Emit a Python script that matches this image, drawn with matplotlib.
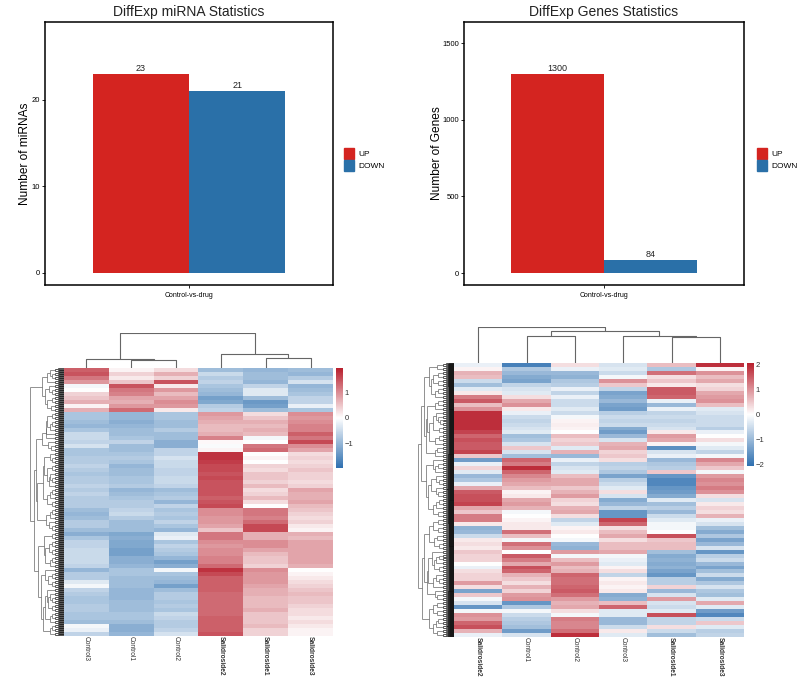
#! /usr/bin/env python3
import numpy as np
import matplotlib
matplotlib.use('Agg')
import matplotlib.pyplot as plt
from matplotlib.collections import LineCollection
from matplotlib.colors import LinearSegmentedColormap
from matplotlib.patches import Patch

plt.rcParams['font.family'] = ['Liberation Sans', 'DejaVu Sans']

W, H = 800, 680

# bar charts
mirna_counts = [23, 21]
gene_counts = [1300, 84]
bar_labels = ['UP', 'DOWN']
group_label = 'Control-vs-drug'

# miRNA heatmap, columns left to right, rows top to bottom
m_samples = ['Control3', 'Control1', 'Control2', 'Salidroside2', 'Salidroside1', 'Salidroside3']
m_control3 = [1.4, 1.5, 1.2, 0.9, -0.1, 0.0, 0.4, 0.5, 0.7, 0.1, 0.7,
              -0.8, -0.8, -0.9, -1.0, -0.8, -0.5, -0.5, -0.6, -0.4, -0.8,
              -0.8, -0.7, -0.7, -0.6, -0.7, -0.8, -0.7, -0.7, -0.6, -0.7, -0.6, -0.7, -0.7, -0.7,
              -0.9, -1.0, -0.9, -0.7, -0.7, -0.9, -1.1, -0.8, -0.6, -0.6, -0.5, -0.5, -0.5, -0.5, -0.6,
              -1.0, -0.7, -0.7, -0.3, -0.1, -0.6, -0.7, -0.8, -0.8, -0.7, -0.7, -0.8, -0.8, -0.9, -0.1, -0.2, -0.6]
m_control1 = [0.1, 0.4, 0.2, 0.5, 1.5, 1.2, 1.1, 0.8, 0.7, 0.9, 1.3,
              -1.0, -1.0, -1.1, -1.0, -0.9, -0.9, -0.8, -0.6, -0.9, -0.9,
              -0.8, -0.7, -0.8, -1.0, -0.9, -0.9, -0.8, -0.8, -0.7, -1.0, -0.9, -0.8, -0.7, -0.7,
              -0.6, -0.5, -0.7, -0.9, -0.9, -0.9, -1.2, -1.1, -1.2, -1.2, -1.3, -1.3, -1.1, -1.1, -1.0,
              -0.8, -0.8, -0.9, -0.9, -0.9, -1.0, -1.0, -1.0, -0.9, -0.9, -0.9, -0.8, -0.8, -0.9, -1.1, -1.1, -1.0]
m_control2 = [0.3, 0.7, 0.4, 1.5, 0.2, 0.9, 0.6, 0.8, 1.0, 0.9, 0.2,
              -0.8, -0.8, -0.9, -0.9, -0.7, -0.9, -0.9, -1.1, -1.1, -0.6,
              -0.6, -0.4, -0.5, -0.5, -0.6, -0.6, -0.5, -0.5, -0.6, -0.9, -0.8, -0.7, -1.0, -0.6,
              -0.8, -0.7, -0.8, -0.6, -0.8, -1.0, -0.3, -0.2, -0.8, -0.6, -0.7, -0.8, -1.0, -1.3, -1.1,
              -0.1, -0.8, -0.9, -1.0, -1.3, -0.9, -0.7, -0.7, -0.8, -0.7, -0.8, -0.5, -0.6, -0.7, -0.7, -0.6, -0.4]
m_salid2 = [-0.9, -0.5, -0.7, -0.6, -0.8, -0.9, -1.0, -1.3, -1.2, -0.7, -0.6,
            0.9, 0.8, 0.7, 0.6, 0.6, 0.7, 1.1, 0.05, -0.05, 0.1,
            1.8, 1.8, 1.7, 1.6, 1.6, 1.5, 1.6, 1.5, 1.5, 1.5, 1.5, 1.4, 1.5, 1.6,
            1.0, 1.0, 0.9, 0.9, 0.8, 0.5, 1.2, 1.2, 1.0, 0.9, 1.0, 1.0, 1.1, 1.1, 1.3,
            1.8, 1.6, 1.4, 1.4, 1.4, 1.4, 1.3, 1.3, 1.3, 1.3, 1.3, 1.3, 1.4, 1.4, 1.4, 1.4, 1.5]
m_salid1 = [-1.0, -0.9, -0.9, -1.0, -0.6, -0.3, -0.3, -0.9, -1.4, -1.3, -0.9,
            0.3, 0.5, 0.7, 0.6, 0.7, 0.6, -0.1, 0.0, 1.2, 1.3,
            0.0, 0.1, 0.0, 0.4, 0.3, 0.5, 0.5, 0.4, 0.6, 0.3, 0.4, 0.6, 0.3, 0.0,
            1.2, 1.2, 1.1, 1.3, 1.6, 1.6, 0.7, 0.7, 1.0, 1.0, 0.8, 0.6, 0.5, 0.5, 0.4,
            1.0, 0.9, 0.9, 0.9, 0.8, 0.7, 0.7, 0.6, 0.6, 0.6, 0.7, 0.5, 0.5, 0.5, 0.6, 0.4, 0.4]
m_salid3 = [-0.9, -1.0, -0.7, -0.4, -1.0, -0.9, -0.8, -0.6, -0.6, -0.2, -0.8,
            1.0, 0.9, 1.0, 1.1, 1.1, 1.4, 1.2, 1.6, 1.0, 0.8,
            0.3, 0.4, 0.3, 0.4, 0.5, 0.4, 0.4, 0.3, 0.4, 0.8, 0.7, 0.7, 0.8, 0.6,
            0.5, 0.4, 0.3, 0.4, 0.2, 0.1, 0.7, 0.6, 0.8, 0.8, 0.8, 0.8, 0.8, 0.8, 0.7,
            0.0, 0.1, 0.2, 0.3, 0.4, 0.5, 0.6, 0.5, 0.5, 0.4, 0.3, 0.3, 0.2, 0.3, 0.2, 0.1, 0.1]
# merges as (left id, right id, height); ids above 5 are earlier merges
m_merges = [(1, 2, 23), (0, 6, 27), (4, 5, 30), (3, 8, 43), (7, 9, 105)]

# genes heatmap
g_samples = ['Salidroside2', 'Control1', 'Control2', 'Control3', 'Salidroside1', 'Salidroside3']
g_salid2 = [-0.2, 0.1, 0.7, 0.6, -0.5, -0.9, -0.3, 0.2, 1.2, 1.5, 0.6, 1.0,
            1.9, 1.9, 1.9, 1.9, 1.9, 1.7, 1.4, 1.6, 1.5, 1.5, 1.7, 0.5,
            -1.4, -0.2, 0.4, -0.3, -1.0, -0.8, -0.2, 0.8, 1.5, 1.6, 1.6,
            1.7, 0.8, 0.5, 1.2, 1.2, 0.2, -1.1, -1.0, -0.5, 0.2, 0.3, 0.2, 0.5, 0.4, 0.4, 0.0,
            -0.2, 0.3, 0.4, 0.4, 0.9, 0.3, -1.3, 0.5, -0.1, -0.4, -1.5, -0.1, 1.0, 0.9, 1.4, 1.6, 0.7, -0.2]
g_control1 = [-1.8, -0.8, -1.0, -1.2, -1.3, -0.6, -0.4, -0.3, 0.3, 0.8, 1.0, 0.2,
              -0.2, -0.5, -0.6, -0.5, -0.4, -0.3, -0.9, -0.8, -0.4, 0.5, -0.4, -0.9,
              1.4, 1.2, 1.9, 1.4, 1.1, 0.9, 0.8, 0.6, 0.1, 0.2, 0.8,
              0.9, 0.7, -0.1, 0.0, 0.1, 0.2, 0.2, 1.3, 0.6, -0.1, 1.3, 1.0, 0.0, 1.5, 1.2, 0.8,
              1.6, 1.4, 0.7, 0.5, 0.3, 0.7, 0.4, 0.9, 1.0, -1.5, -0.8, -0.1, -0.5, -0.7, -0.8, -0.9, -1.4, -0.4]
g_control2 = [0.3, -0.2, -1.0, -1.1, -0.8, -0.7, -0.2, -0.6, -0.2, -0.5, -0.5, -0.3,
              -0.5, -0.1, 0.1, 0.15, 0.1, 0.0, 0.6, 0.4, 0.5, -0.3, 0.7, -1.0,
              -0.2, -0.6, -0.4, -0.3, 0.6, 0.8, 0.8, 0.5, 0.7, 0.9, 0.4,
              0.3, 0.7, 0.8, 0.3, -0.6, -0.3, 0.1, 0.2, 0.0, -0.1, -1.0, -1.1, 0.9, -0.1, 0.6, 0.9,
              0.6, 0.7, 1.4, 1.3, 1.3, 1.4, 1.5, 1.3, 0.9, 0.7, 0.8, 0.3, -0.1, 1.2, 1.1, 1.1, 1.3, 1.9]
g_control3 = [-0.4, -0.3, -0.5, -0.1, 1.0, 0.5, -0.6, -1.3, -1.2, -1.0, -1.3, -1.4,
              -0.7, -0.5, -0.6, -0.5, -1.2, -1.4, -1.0, -0.4, 0.7, 0.8, 0.4, 0.5,
              0.3, -0.7, -0.6, -0.8, -1.3, -0.7, -0.5, -0.3, 0.3, -0.4, -1.2,
              -1.0, -0.6, -1.5, -1.5, 1.7, 1.4, 0.3, 0.6, 0.8, 0.3, 0.6, 0.6, 0.8, -0.1, -0.2, -0.3,
              0.1, 0.3, -0.6, 0.1, 0.2, 0.1, 0.2, -1.2, -1.1, 0.6, 1.4, -0.3, -0.3, -1.0, -1.0, -0.5, 0.2, -0.3]
g_salid1 = [0.6, -0.8, 1.3, 0.3, 0.5, 0.2, 1.5, 1.5, 1.4, -0.2, -1.0, -0.2,
            -0.6, -0.5, -0.6, -0.5, -0.4, 0.2, 0.9, 0.8, 0.1, -1.6, -0.4, -0.2,
            -1.0, -0.8, -0.7, 0.5, -1.5, -1.7, -1.7, -1.5, -1.4, -1.2, -0.3,
            -0.9, -0.7, -1.0, -0.5, -0.3, -0.1, -0.1, 0.0, 1.6, 0.5, 0.6, 0.6, -0.9, -1.2, -1.1, -1.2,
            -1.1, -1.3, -1.5, -0.7, -0.7, 0.4, -1.0, -0.4, 0.9, -0.4, -0.5, -0.3, 1.6, -0.6, -0.6, 0.3, -0.5, -0.9]
g_salid3 = [1.9, 0.1, 1.0, 0.6, 0.8, 0.3, 0.4, 0.8, 0.9, 1.0, 0.6, -0.3,
            -0.4, -0.5, -0.5, -0.5, -0.7, -0.2, 0.0, 0.3, -0.1, -0.3, -0.6, -0.1,
            1.1, 0.8, 0.5, -0.1, 0.9, 1.1, 1.0, 1.2, 1.0, 0.3, -0.4,
            0.2, 0.4, 0.3, 0.7, -0.2, -0.4, -0.9, -1.2, -0.8, -1.3, -1.0, -0.4, -1.5, -0.7, -0.5, -1.0,
            -1.3, -0.9, -0.5, -1.2, -0.8, -0.4, -0.8, -0.9, -0.3, 0.8, -0.3, -1.4, -1.7, -0.5, 0.5, -0.3, -0.7, -0.6]
g_merges = [(4, 5, 78), (1, 2, 80), (3, 6, 82), (7, 8, 96), (0, 9, 108)]

heat_cmap = LinearSegmentedColormap.from_list('heat', ['#2f70b0', '#ffffff', '#b81f2d'])


def px_axes(fig, left, top, right, bottom):
    # place an axes using pixel edges of the picture
    return fig.add_axes([left / W, 1 - bottom / H, (right - left) / W, (bottom - top) / H])


def bar_panel(fig, box, counts, ylim, yticks, title, ylabel, label_x, legend_x):
    ax = px_axes(fig, *box)
    colors = ['#d42420', '#2a70a8']
    ax.bar([-0.225, 0.225], counts, width=0.45, color=colors, edgecolor='none')
    for x, c in zip([-0.225, 0.225], counts):
        ax.text(x, c + (ylim[1] - ylim[0]) * 0.004, str(c), ha='center', va='bottom', fontsize=6.5, color='#222222')
    ax.set_xlim(-0.674, 0.674)
    ax.set_ylim(*ylim)
    ax.set_xticks([0])
    ax.set_xticklabels([group_label], fontsize=5)
    ax.set_yticks(yticks)
    ax.tick_params(axis='y', labelsize=5.5, length=2, width=0.6, pad=1.5)
    ax.tick_params(axis='x', length=2, width=0.6, pad=3)
    for s in ax.spines.values():
        s.set_linewidth(1.1)
    ax.set_title(title, fontsize=10, pad=4, color='#222222')
    ax.set_ylabel(ylabel, fontsize=8.6)
    ax.yaxis.set_label_coords(label_x, 0.5)
    handles = [Patch(color=c) for c in colors]
    fig.legend(handles, bar_labels, loc='center left', bbox_to_anchor=(legend_x / W, 1 - 159.5 / H),
               frameon=False, fontsize=6, handlelength=1.2, handleheight=1.6, handletextpad=0.5,
               labelspacing=0.15, borderpad=0, borderaxespad=0)
    return ax


def row_tree(vals, sub):
    # tree over the rows, cut where neighbouring rows differ most
    total = len(vals) * sub
    segs = []
    colors = []

    def node(lo, hi):
        if hi - lo == 1:
            return (lo + 0.5) / sub - 0.5, 0.0
        first = lo // sub + 1
        last = (hi - 1) // sub
        cut = (lo + hi) // 2
        best = -1.0
        for r in range(first, last + 1):
            c = r * sub
            score = np.linalg.norm(vals[r] - vals[r - 1]) * np.sqrt(min(c - lo, hi - c))
            if score > best:
                best = score
                cut = c
        y1, h1 = node(lo, cut)
        y2, h2 = node(cut, hi)
        # node height grows with size, uneven where its rows disagree
        r1, r2 = lo // sub, (hi - 1) // sub
        spread = np.linalg.norm(vals[r1] - vals[r2]) / 4
        h = np.log(1 + hi - lo) / np.log(1 + total) * (0.8 + min(spread, 0.5) * 0.4)
        h = min(max(h, max(h1, h2) * 1.03), 1.0)
        shade = '#111111' if h < 0.33 else '#666666'
        for seg in ([(h1, y1), (h, y1)], [(h2, y2), (h, y2)], [(h, y1), (h, y2)]):
            segs.append(seg)
            colors.append(shade)
        return (y1 + y2) / 2, h

    node(0, total)
    return segs, colors


def col_tree(merges):
    # top dendrogram lines from the merge list
    pos = {i: (float(i), 0.0) for i in range(6)}
    segs = []
    for k, (a, b, h) in enumerate(merges):
        xa, ha = pos[a]
        xb, hb = pos[b]
        segs.append([(xa, ha), (xa, h), (xb, h), (xb, hb)])
        pos[6 + k] = ((xa + xb) / 2, h)
    return segs, max(m[2] for m in merges)


def heat_panel(fig, vals, samples, merges, lim, cticks, hx, hy, root_x, root_y, cx, cbottom, sub):
    ax = px_axes(fig, hx[0], hy[0], hx[1], hy[1])
    im = ax.imshow(vals, aspect='auto', cmap=heat_cmap, vmin=-lim, vmax=lim, interpolation='nearest')
    ax.set_yticks([])
    ax.set_xticks(range(6))
    ax.set_xticklabels(samples, rotation=270, fontsize=4.8, color='#333333')
    for t, s in zip(ax.get_xticklabels(), samples):
        if s.startswith('Salidroside'):
            t.set_fontweight('bold')
    ax.tick_params(axis='x', length=0, pad=0)
    for s in ax.spines.values():
        s.set_visible(False)

    top = px_axes(fig, hx[0], root_y, hx[1], hy[0])
    segs, hmax = col_tree(merges)
    top.add_collection(LineCollection(segs, colors='#666666', linewidths=0.8))
    top.set_xlim(-0.5, 5.5)
    top.set_ylim(0, hmax)
    top.axis('off')
    top.patch.set_visible(False)

    left = px_axes(fig, root_x, hy[0], hx[0], hy[1])
    tree, tree_colors = row_tree(vals, sub)
    left.add_collection(LineCollection(tree, colors=tree_colors, linewidths=0.5))
    left.set_xlim(1, 0)
    left.set_ylim(len(vals) - 0.5, -0.5)
    left.axis('off')

    cax = px_axes(fig, cx[0], hy[0], cx[1], cbottom)
    cb = fig.colorbar(im, cax=cax)
    cb.set_ticks(cticks)
    cb.ax.tick_params(length=0, labelsize=5.5, pad=1, labelcolor='#333333')
    cb.outline.set_visible(False)


fig = plt.figure(figsize=(W / 100, H / 100), dpi=100)

bar_panel(fig, (45, 22, 333, 285), mirna_counts, (-1.39, 29), [0, 10, 20],
          'DiffExp miRNA Statistics', 'Number of miRNAs', -0.05, 344)
bar_panel(fig, (464, 22, 744, 285), gene_counts, (-78, 1637), [0, 500, 1000, 1500],
          'DiffExp Genes Statistics', 'Number of Genes', -0.075, 757)

heat1 = np.column_stack([m_control3, m_control1, m_control2, m_salid2, m_salid1, m_salid3])
heat2 = np.column_stack([g_salid2, g_control1, g_control2, g_control3, g_salid1, g_salid3])

heat_panel(fig, heat1, m_samples, m_merges, 1.97, [-1, 0, 1], (64, 333), (368, 636), 30, 333, (336, 343), 468, 6)
heat_panel(fig, heat2, g_samples, g_merges, 2.05, [-2, -1, 0, 1, 2], (454, 744), (363, 637), 418, 327, (747, 754), 466, 12)

fig.savefig('out.png', dpi=100)
